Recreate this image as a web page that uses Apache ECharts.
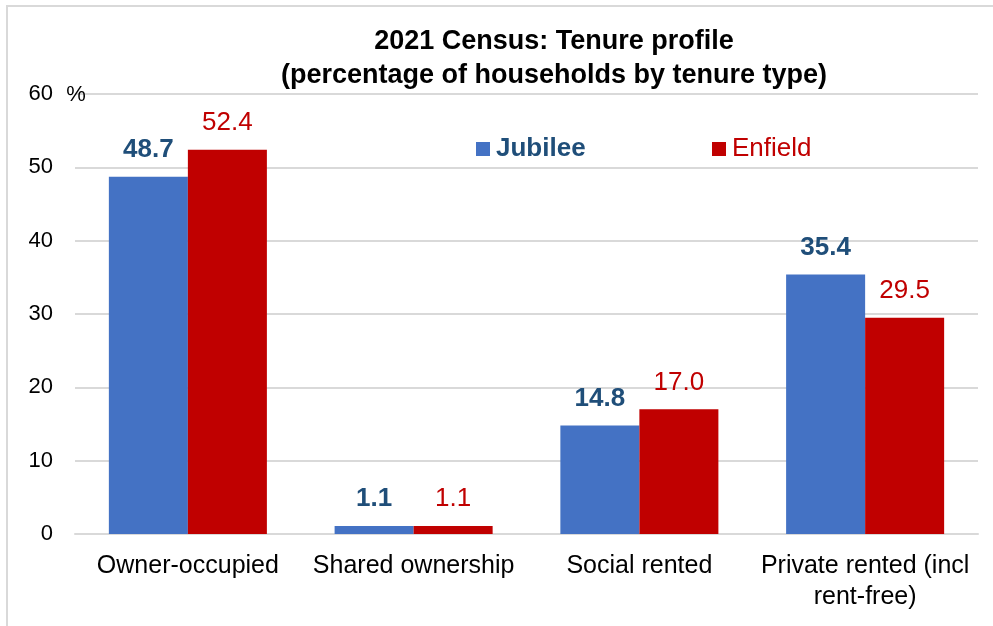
<!DOCTYPE html>
<html>
<head>
<meta charset="utf-8">
<script src="https://cdn.jsdelivr.net/npm/echarts@6/dist/echarts.min.js"></script>
<style>
  html, body { margin: 0; padding: 0; background: #fff; }
  #chart { width: 993px; height: 626px; }
</style>
</head>
<body>
<div id="chart"></div>
<script>
// tenure types on the x axis
const categories = ['Owner-occupied', 'Shared ownership', 'Social rented', 'Private rented (incl\nrent-free)']
// % of households
const jubilee = [48.7, 1.1, 14.8, 35.4]
const enfield = [52.4, 1.1, 17.0, 29.5]
const yTicks = [0, 10, 20, 30, 40, 50, 60]

const FONT = '"Liberation Sans", Arial, sans-serif'
const BLUE = '#4472C4'
const RED = '#C00000'
const DARK_BLUE = '#1F4E79'

const chart = echarts.init(document.getElementById('chart'))

chart.setOption({
  animation: false,
  textStyle: { fontFamily: FONT },
  title: {
    text: '2021 Census: Tenure profile\n(percentage of households by tenure type)',
    left: 549,
    top: 20,
    textAlign: 'center',
    textStyle: { fontSize: 27, fontWeight: 'bold', color: '#000', lineHeight: 34, fontFamily: FONT }
  },
  graphic: [{
    type: 'rect',
    shape: { x: 7, y: 6, width: 1000, height: 700 },
    style: { fill: 'none', stroke: '#d9d9d9', lineWidth: 2 },
    silent: true
  }],
  legend: [{
    data: [{ name: 'Jubilee', textStyle: { color: DARK_BLUE, fontWeight: 'bold' } }],
    left: 471, top: 131,
    icon: 'rect', itemWidth: 14, itemHeight: 14, itemGap: 7,
    textStyle: { fontSize: 26, fontFamily: FONT, padding: [0, 0, 0, 1] }
  }, {
    data: [{ name: 'Enfield', textStyle: { color: RED } }],
    left: 707, top: 131,
    icon: 'rect', itemWidth: 14, itemHeight: 14, itemGap: 7,
    textStyle: { fontSize: 26, fontFamily: FONT, padding: [0, 0, 0, 1] }
  }],
  grid: { left: 75, right: 15, top: 94, bottom: 92, containLabel: false },
  xAxis: {
    type: 'category',
    data: categories,
    axisLine: { lineStyle: { color: '#d9d9d9', width: 2 } },
    axisTick: { show: false },
    axisLabel: { fontSize: 25, color: '#000', margin: 17, lineHeight: 31, fontFamily: FONT, interval: 0 }
  },
  yAxis: {
    type: 'value',
    min: yTicks[0],
    max: yTicks[yTicks.length - 1],
    interval: 10,
    name: '%',
    nameLocation: 'end',
    nameGap: -1,
    nameTextStyle: { fontSize: 22, color: '#000', align: 'center', verticalAlign: 'middle', padding: [0, 0, 0, 2], fontFamily: FONT },
    axisLine: { show: false },
    axisTick: { show: false },
    axisLabel: { fontSize: 22, color: '#000', margin: 22, fontFamily: FONT },
    splitLine: { lineStyle: { color: '#d9d9d9', width: 2 } }
  },
  series: [{
    name: 'Jubilee',
    type: 'bar',
    data: jubilee,
    barGap: '0%',
    barCategoryGap: '30%',
    itemStyle: { color: BLUE },
    label: {
      show: true, position: 'top', distance: 14,
      formatter: p => p.value.toFixed(1),
      fontSize: 26, fontWeight: 'bold', color: DARK_BLUE, fontFamily: FONT
    }
  }, {
    name: 'Enfield',
    type: 'bar',
    data: enfield,
    barGap: '0%',
    barCategoryGap: '30%',
    itemStyle: { color: RED },
    label: {
      show: true, position: 'top', distance: 14,
      formatter: p => p.value.toFixed(1),
      fontSize: 26, color: RED, fontFamily: FONT
    }
  }]
})
</script>
</body>
</html>
